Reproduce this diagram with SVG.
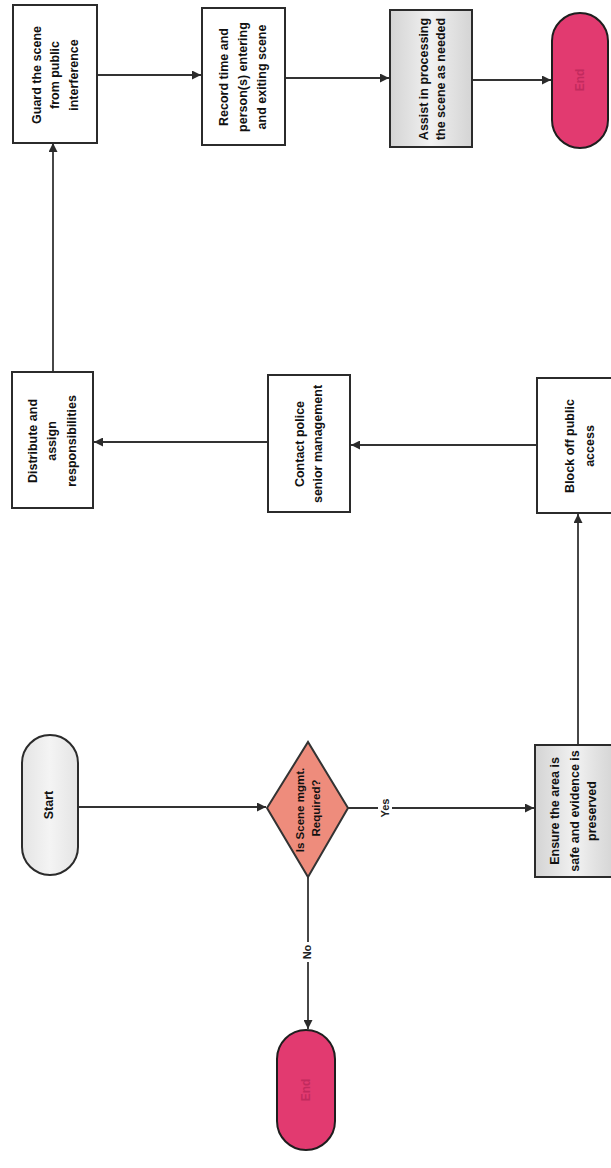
<svg xmlns="http://www.w3.org/2000/svg" width="611" height="1168" viewBox="0 0 611 1168">
  <style>
    .box { fill: #ffffff; stroke: #2b2b2b; stroke-width: 2; }
    .shaded { fill: url(#greyBand); stroke: #2b2b2b; stroke-width: 2; }
    .start { fill: url(#startFill); stroke: #2b2b2b; stroke-width: 2; }
    .end { fill: #e23a70; stroke: #1e1e1e; stroke-width: 2; }
    .decision { fill: #ee8c7c; stroke: #333333; stroke-width: 2; }
    .lbl { font-family: "Liberation Sans", Arial, sans-serif; font-weight: bold; font-size: 12.5px; fill: #111111; text-anchor: middle; dominant-baseline: central; }
    .dlbl { font-size: 11.5px; }
    .endlbl { fill: #c22a5e; font-size: 12px; }
    .edge { fill: none; stroke: #333333; stroke-width: 1.8; marker-end: url(#head); }
    .elbl { font-family: "Liberation Sans", Arial, sans-serif; font-weight: bold; font-size: 11px; fill: #222222; text-anchor: middle; dominant-baseline: central; }
  </style>
  <defs>
    <marker id="head" viewBox="0 0 10 10" refX="10" refY="5" markerWidth="5" markerHeight="5" orient="auto" markerUnits="strokeWidth">
      <path d="M0,0 L10,5 L0,10 z" fill="#2b2b2b"/>
    </marker>
    <linearGradient id="greyBand" x1="0" y1="0" x2="1" y2="0">
      <stop offset="0" stop-color="#d4d4d4"/>
      <stop offset="0.25" stop-color="#e2e2e2"/>
      <stop offset="0.5" stop-color="#f2f2f2"/>
      <stop offset="0.75" stop-color="#e2e2e2"/>
      <stop offset="1" stop-color="#d4d4d4"/>
    </linearGradient>
    <linearGradient id="startFill" x1="0" y1="0" x2="1" y2="0">
      <stop offset="0" stop-color="#e4e4e4"/>
      <stop offset="0.5" stop-color="#f4f4f4"/>
      <stop offset="1" stop-color="#e4e4e4"/>
    </linearGradient>
  </defs>

  <rect width="611" height="1168" fill="#ffffff"/>

  <!-- connectors -->
  <g id="connectors">
    <path class="edge" d="M78,807 L266,807"/>
    <path class="edge" d="M348,808 L534,808"/>
    <path class="edge" d="M308,877 L308,1029"/>
    <path class="edge" d="M578,745 L578,514"/>
    <path class="edge" d="M537,445 L351,445"/>
    <path class="edge" d="M268,442 L94,442"/>
    <path class="edge" d="M53,372 L53,143"/>
    <path class="edge" d="M97,75 L201,75"/>
    <path class="edge" d="M285,78 L389,78"/>
    <path class="edge" d="M472,80 L551,80"/>
    <g id="label-yes">
      <rect x="378" y="796" width="14" height="24" fill="#ffffff"/>
      <text class="elbl" transform="translate(385,808) rotate(-90)">Yes</text>
    </g>
    <g id="label-no">
      <rect x="300" y="942" width="14" height="20" fill="#ffffff"/>
      <text class="elbl" transform="translate(307,952) rotate(-90)">No</text>
    </g>
  </g>

  <!-- nodes -->
  <g id="guard">
    <rect class="box" x="13" y="5" width="84" height="138"/>
    <text class="lbl" transform="translate(37,75) rotate(-90)">Guard the scene</text>
    <text class="lbl" transform="translate(55,75) rotate(-90)">from public</text>
    <text class="lbl" transform="translate(74,75) rotate(-90)">interference</text>
  </g>

  <g id="record">
    <rect class="box" x="202" y="8" width="83" height="137"/>
    <text class="lbl" transform="translate(224,77) rotate(-90)">Record time and</text>
    <text class="lbl" transform="translate(243,77) rotate(-90)">person(s) entering</text>
    <text class="lbl" transform="translate(262,77) rotate(-90)">and exiting scene</text>
  </g>

  <g id="assist">
    <rect class="shaded" x="390" y="10" width="82" height="137"/>
    <text class="lbl" transform="translate(424,79) rotate(-90)">Assist in processing</text>
    <text class="lbl" transform="translate(441,79) rotate(-90)">the scene as needed</text>
  </g>

  <g id="end-top">
    <rect class="end" x="552" y="13" width="56" height="135" rx="28" ry="28"/>
    <text class="lbl endlbl" transform="translate(580,80) rotate(-90)">End</text>
  </g>

  <g id="distribute">
    <rect class="box" x="12" y="372" width="81" height="136"/>
    <text class="lbl" transform="translate(33,441) rotate(-90)">Distribute and</text>
    <text class="lbl" transform="translate(52,441) rotate(-90)">assign</text>
    <text class="lbl" transform="translate(72,441) rotate(-90)">responsibilities</text>
  </g>

  <g id="contact">
    <rect class="box" x="268" y="375" width="82" height="137"/>
    <text class="lbl" transform="translate(300,444) rotate(-90)">Contact police</text>
    <text class="lbl" transform="translate(318,444) rotate(-90)">senior management</text>
  </g>

  <g id="block">
    <rect class="box" x="537" y="378" width="86" height="135"/>
    <text class="lbl" transform="translate(570,446) rotate(-90)">Block off public</text>
    <text class="lbl" transform="translate(590,446) rotate(-90)">access</text>
  </g>

  <g id="start">
    <rect class="start" x="22" y="735" width="56" height="140" rx="28" ry="28"/>
    <text class="lbl" transform="translate(49,805) rotate(-90)">Start</text>
  </g>

  <g id="decision">
    <polygon class="decision" points="267,808 308,742 348,808 308,877"/>
    <text class="lbl dlbl" transform="translate(300,810) rotate(-90)">Is Scene mgmt.</text>
    <text class="lbl dlbl" transform="translate(316,808) rotate(-90)">Required?</text>
  </g>

  <g id="ensure">
    <rect class="shaded" x="535" y="745" width="80" height="132"/>
    <text class="lbl" transform="translate(555,811) rotate(-90)">Ensure the area is</text>
    <text class="lbl" transform="translate(575,811) rotate(-90)">safe and evidence is</text>
    <text class="lbl" transform="translate(592,811) rotate(-90)">preserved</text>
  </g>

  <g id="end-bottom">
    <rect class="end" x="277" y="1030" width="58" height="120" rx="29" ry="29"/>
    <text class="lbl endlbl" transform="translate(306,1090) rotate(-90)">End</text>
  </g>
</svg>
